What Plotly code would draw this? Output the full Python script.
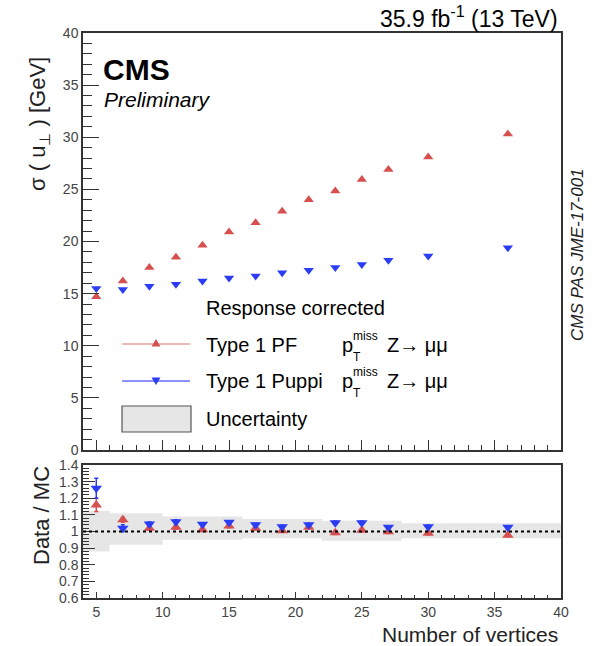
import plotly.graph_objects as go

# ---------------- data ----------------
n_vertices = [5, 7, 9, 11, 13, 15, 17, 19, 21, 23, 25, 27, 30, 36]
sigma_pf = [14.7, 16.2, 17.5, 18.5, 19.65, 20.9, 21.8, 22.9, 24.0, 24.85, 25.95, 26.9, 28.1, 30.3]
sigma_puppi = [15.5, 15.4, 15.7, 15.9, 16.2, 16.5, 16.7, 17.0, 17.25, 17.5, 17.8, 18.2, 18.6, 19.4]

ratio_pf = [1.16, 1.07, 1.02, 1.025, 1.01, 1.033, 1.02, 1.005, 1.025, 0.992, 1.008, 0.998, 0.99, 0.978]
ratio_pf_err = [0.04, 0.015, 0.012, 0.012, 0.01, 0.01, 0.01, 0.01, 0.01, 0.01, 0.01, 0.01, 0.01, 0.01]
ratio_puppi = [1.26, 1.02, 1.045, 1.058, 1.043, 1.055, 1.04, 1.028, 1.04, 1.053, 1.053, 1.025, 1.028, 1.025]
ratio_puppi_err = [0.06, 0.02, 0.012, 0.012, 0.01, 0.01, 0.01, 0.01, 0.01, 0.01, 0.01, 0.01, 0.01, 0.01]

band_edges = [4, 6, 10, 16, 22, 28, 40]
band_lo = [0.88, 0.92, 0.95, 0.96, 0.945, 0.96]
band_hi = [1.125, 1.11, 1.09, 1.075, 1.065, 1.05]

top_yticks = [0, 5, 10, 15, 20, 25, 30, 35, 40]
ratio_yticks = [0.6, 0.7, 0.8, 0.9, 1.0, 1.1, 1.2, 1.3, 1.4]
ratio_yticktext = ["0.6", "0.7", "0.8", "0.9", "1", "1.1", "1.2", "1.3", "1.4"]
xticks = [5, 10, 15, 20, 25, 30, 35, 40]

# ---------------- styling ----------------
W, H = 592, 646
L, R, T, B = 83, 561, 33, 598
FONT = "Liberation Sans, Arial, sans-serif"
RED = "#d65050"
BLUE = "#2b3cf5"
RED_LINE = "#e8a0a0"
BLUE_LINE = "#6b6bff"
FRAME = "#333333"
TICKC = "#444444"
BAND = "#e6e6e6"


def px(x):
    return (x - L) / (R - L)


def py(y):
    return (B - y) / (B - T)


fig = go.Figure()

# uncertainty band (ratio panel)
bx, by = [], []
for i in range(len(band_lo)):
    bx += [band_edges[i], band_edges[i + 1]]
    by += [band_hi[i], band_hi[i]]
for i in reversed(range(len(band_lo))):
    bx += [band_edges[i + 1], band_edges[i]]
    by += [band_lo[i], band_lo[i]]
fig.add_trace(go.Scatter(
    x=bx, y=by, xaxis="x2", yaxis="y2", mode="lines", fill="toself",
    line=dict(width=0, shape="linear"), fillcolor=BAND,
    hoverinfo="skip", showlegend=False))

# top panel
fig.add_trace(go.Scatter(x=n_vertices, y=sigma_pf, mode="markers",
                         marker=dict(symbol="triangle-up", size=9, color=RED),
                         showlegend=False))
fig.add_trace(go.Scatter(x=n_vertices, y=sigma_puppi, mode="markers",
                         marker=dict(symbol="triangle-down", size=9, color=BLUE),
                         showlegend=False))

# ratio panel
fig.add_trace(go.Scatter(x=n_vertices, y=ratio_pf, xaxis="x2", yaxis="y2", mode="markers",
                         marker=dict(symbol="triangle-up", size=10, color=RED),
                         error_y=dict(array=ratio_pf_err, color=RED, thickness=1.5, width=2),
                         showlegend=False))
fig.add_trace(go.Scatter(x=n_vertices, y=ratio_puppi, xaxis="x2", yaxis="y2", mode="markers",
                         marker=dict(symbol="triangle-down", size=10, color=BLUE),
                         error_y=dict(array=ratio_puppi_err, color=BLUE, thickness=1.5, width=2),
                         showlegend=False))

axis_common = dict(showgrid=False, zeroline=False, showline=True, linecolor=FRAME,
                   linewidth=1.5, mirror=True, ticks="inside", tickcolor=FRAME,
                   tickfont=dict(family=FONT, size=14, color=TICKC))

fig.update_layout(
    width=W, height=H,
    margin=dict(l=L, r=W - R, t=T, b=H - B),
    paper_bgcolor="white", plot_bgcolor="white",
    showlegend=False,
    xaxis=dict(**axis_common, domain=[0, 1], range=[4, 40], anchor="y",
               tickvals=xticks, showticklabels=False, ticklen=10, tickwidth=1,
               minor=dict(dtick=1, tick0=4, ticks="inside", ticklen=5, tickcolor=FRAME)),
    yaxis=dict(**axis_common, domain=[py(450), 1], range=[0, 40], anchor="x",
               tickvals=top_yticks, ticklen=16, tickwidth=1,
               minor=dict(dtick=1, ticks="inside", ticklen=9, tickcolor=FRAME)),
    xaxis2=dict(**axis_common, domain=[0, 1], range=[4, 40], anchor="y2",
                tickvals=xticks, ticklen=6, tickwidth=1,
                minor=dict(dtick=1, tick0=4, ticks="inside", ticklen=3, tickcolor=FRAME)),
    yaxis2=dict(**axis_common, domain=[0, py(465)], range=[0.6, 1.4], anchor="x2",
                tickvals=ratio_yticks, ticktext=ratio_yticktext, ticklen=12, tickwidth=1,
                minor=dict(dtick=0.02, tick0=0.6, ticks="inside", ticklen=6, tickcolor=FRAME)),
)

shapes = []
# dotted unity line
shapes.append(dict(type="line", xref="x2", yref="y2", x0=4, x1=40, y0=1, y1=1,
                   line=dict(color="black", width=2, dash="dot"), layer="above"))

# legend samples (drawn in pixel-derived paper coords)
shapes.append(dict(type="line", xref="paper", yref="paper", x0=px(122), x1=px(190),
                   y0=py(344), y1=py(344), line=dict(color=RED_LINE, width=1.5)))
shapes.append(dict(type="line", xref="paper", yref="paper", x0=px(122), x1=px(190),
                   y0=py(381), y1=py(381), line=dict(color=BLUE_LINE, width=1.5)))


def tri_path(cx, cy, s, up=True):
    if up:
        pts = [(cx - s, cy + s * 0.8), (cx + s, cy + s * 0.8), (cx, cy - s * 0.9)]
    else:
        pts = [(cx - s, cy - s * 0.8), (cx + s, cy - s * 0.8), (cx, cy + s * 0.9)]
    return "M " + " L ".join(f"{px(a):.5f},{py(b):.5f}" for a, b in pts) + " Z"


shapes.append(dict(type="path", xref="paper", yref="paper", path=tri_path(156, 343, 4.5, True),
                   fillcolor=RED, line=dict(width=0)))
shapes.append(dict(type="path", xref="paper", yref="paper", path=tri_path(156, 381, 4.5, False),
                   fillcolor=BLUE, line=dict(width=0)))
shapes.append(dict(type="rect", xref="paper", yref="paper", x0=px(122), x1=px(191),
                   y0=py(432), y1=py(406), fillcolor="#e6e6e6", line=dict(color="#555555", width=1.2)))
fig.update_layout(shapes=shapes)

ann = []


def text(x, y, s, size, xanchor="left", yanchor="middle", angle=0, color="black", family=FONT):
    ann.append(dict(xref="paper", yref="paper", x=px(x), y=py(y), text=s, showarrow=False,
                    xanchor=xanchor, yanchor=yanchor, textangle=angle,
                    font=dict(family=family, size=size, color=color)))


text(560, 17, "35.9 fb<sup>-1</sup> (13 TeV)", 23, xanchor="right")
text(101, 69, "<b>CMS</b>", 30)
text(102, 99, "<i>Preliminary</i>", 21)
text(39, 124, "σ ( u<sub>⊥</sub> ) [GeV]", 22, xanchor="center", angle=-90, color="#222222")
text(41, 516, "Data / MC", 22, xanchor="center", angle=-90, color="#222222")
text(560, 634, "Number of vertices", 21, xanchor="right", color="#222222")
text(578, 255, "<i>CMS PAS JME-17-001</i>", 17, xanchor="center", angle=-90, color="#222222")

# legend texts
text(204, 308, "Response corrected", 20)
text(204, 345, "Type 1 PF", 20)
text(204, 381, "Type 1 Puppi", 20)
text(204, 419, "Uncertainty", 20)
for yc in (345, 381):
    text(340, yc, "p", 20)
    text(351, yc - 9, "miss", 12)
    text(351, yc + 12, "T", 12)
    text(385, yc, "Z→ μμ", 20)

fig.update_layout(annotations=ann)

fig.write_html("out.html")
